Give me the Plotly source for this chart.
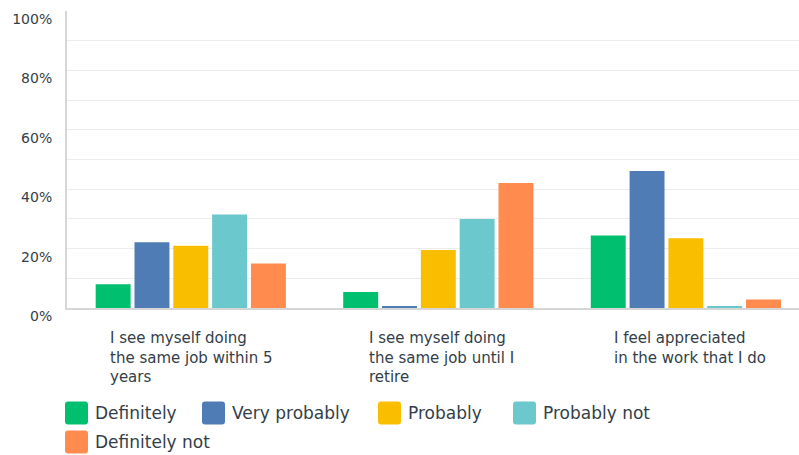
import plotly.graph_objects as go

# Survey questions (category axis) and answer shares in percent
categories = [
    "I see myself doing<br>the same job within 5<br>years",
    "I see myself doing<br>the same job until I<br>retire",
    "I feel appreciated<br>in the work that I do",
]
answers = ["Definitely", "Very probably", "Probably", "Probably not", "Definitely not"]
definitely = [8.0, 5.4, 24.4]
very_probably = [22.1, 0.6, 46.1]
probably = [21.0, 19.5, 23.5]
probably_not = [31.5, 30.0, 0.5]
definitely_not = [15.0, 42.1, 2.9]
series = [definitely, very_probably, probably, probably_not, definitely_not]
colors = ["#00BF6F", "#507CB6", "#F9BE00", "#6BC8CD", "#FF8B4F"]
y_ticks = [0, 20, 40, 60, 80, 100]
y_tick_text = ["0%", "20%", "40%", "60%", "80%", "100%"]

W, H = 799, 455
ML, MR, MT, MB = 67, 0, 11, 147
FONT = "DejaVu Sans"
TEXT = "#333e48"

x_idx = list(range(len(categories)))

fig = go.Figure()
for name, vals, col in zip(answers, series, colors):
    fig.add_trace(go.Bar(
        x=x_idx, y=vals, name=name, marker=dict(color=col, line=dict(width=0)),
        hovertemplate="%{y:.1f}%<extra>" + name + "</extra>",
    ))

# question labels under each group, left aligned
label_shift = [-0.333, -0.29, -0.30]
for i, (cat, s) in enumerate(zip(categories, label_shift)):
    fig.add_annotation(
        x=i + s, xref="x", y=-0.065, yref="paper", text=cat, showarrow=False,
        xanchor="left", yanchor="top", align="left",
        font=dict(family=FONT, size=15, color=TEXT),
    )

# legend drawn as rounded swatches + text in two rows
pw = W - ML - MR
ph = H - MT - MB


def px_x(p):
    return (p - ML) / pw


def px_y(p):
    return (H - MB - p) / ph


def rounded_rect(x0, y0, size, r):
    x1, y1 = x0 + size, y0 + size
    pts = [
        f"M{px_x(x0 + r)},{px_y(y0)}",
        f"L{px_x(x1 - r)},{px_y(y0)}",
        f"Q{px_x(x1)},{px_y(y0)} {px_x(x1)},{px_y(y0 + r)}",
        f"L{px_x(x1)},{px_y(y1 - r)}",
        f"Q{px_x(x1)},{px_y(y1)} {px_x(x1 - r)},{px_y(y1)}",
        f"L{px_x(x0 + r)},{px_y(y1)}",
        f"Q{px_x(x0)},{px_y(y1)} {px_x(x0)},{px_y(y1 - r)}",
        f"L{px_x(x0)},{px_y(y0 + r)}",
        f"Q{px_x(x0)},{px_y(y0)} {px_x(x0 + r)},{px_y(y0)}",
        "Z",
    ]
    return " ".join(pts)


legend_pos = [(65, 413), (202, 413), (378, 413), (513, 413), (65, 442)]
for name, col, (lx, ly) in zip(answers, colors, legend_pos):
    fig.add_shape(
        type="path", xref="paper", yref="paper",
        path=rounded_rect(lx, ly - 11.5, 23, 3),
        fillcolor=col, line=dict(width=0), layer="above",
    )
    fig.add_annotation(
        x=px_x(lx + 28), y=px_y(ly), xref="paper", yref="paper", text=name,
        showarrow=False, xanchor="left", yanchor="middle",
        font=dict(family=FONT, size=17, color=TEXT),
    )

fig.update_layout(
    width=W, height=H,
    margin=dict(l=ML, r=MR, t=MT, b=MB, pad=0),
    paper_bgcolor="white", plot_bgcolor="white",
    barmode="group", bargap=0.216, bargroupgap=0.1,
    showlegend=False,
    font=dict(family=FONT, color=TEXT),
    xaxis=dict(
        range=[-0.5, 2.457], showticklabels=False, ticks="",
        showgrid=False, zeroline=False,
        showline=True, linecolor="#d6d6d6", linewidth=2,
    ),
    yaxis=dict(
        range=[0, 100], tickvals=y_ticks, ticktext=y_tick_text,
        showgrid=True, gridcolor="#ececec", gridwidth=1,
        minor=dict(dtick=10, showgrid=True, gridcolor="#ececec", gridwidth=1),
        zeroline=False, showline=True, linecolor="#d6d6d6", linewidth=2,
        ticks="", ticklabelstandoff=10, ticklabelshift=8,
        tickfont=dict(family=FONT, size=14, color=TEXT, weight=500),
    ),
)

fig.write_html("out.html")
